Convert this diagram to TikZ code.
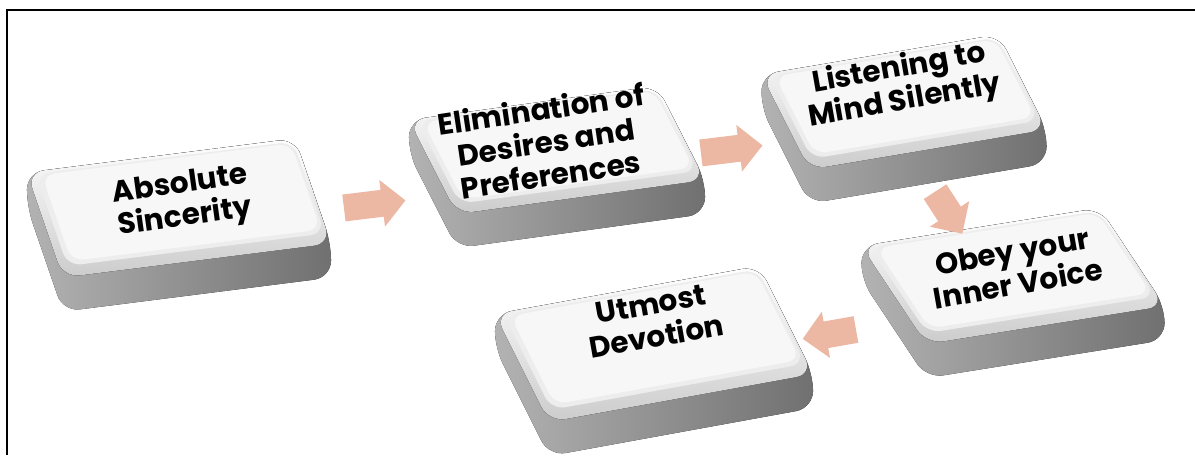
\documentclass[tikz,border=0pt]{standalone}
\usepackage{fontspec}
\usetikzlibrary{shapes.arrows}
\newfontfamily\keyfont{Poppins}
\definecolor{arrowpink}{RGB}{236,183,163}

\tikzset{
  keyside/.style={rounded corners=12pt, left color=black!30, right color=black!56},
  keyrim/.style={rounded corners=12pt, top color=white, bottom color=black!20},
  keymid/.style={rounded corners=10pt, fill=black!7},
  keytop/.style={rounded corners=9pt, fill=black!3},
  keytext/.style={font=\keyfont\bfseries\fontsize{21}{23.5}\selectfont, align=center, text=black},
  flowarrow/.style={single arrow, fill=arrowpink, inner sep=0.33cm, single arrow head extend=0.25cm, minimum height=1.55cm},
  frameline/.style={line width=0.05cm}
}

\newcommand{\keybox}[7]{%
  \begin{scope}[shift={(#2)}, x={(#3)}, y={(#4)}]
    \fill[keyside] (-1,-1) -- (1,-1) -- (1,1) -- ([yshift=-0.85cm]1,1) -- ([yshift=-0.85cm]-1,1) -- ([yshift=-0.85cm]-1,-1) -- cycle;
    \fill[keyrim] (-1,-1) -- (1,-1) -- (1,1) -- (-1,1) -- cycle;
    \fill[keymid] (-0.94,-0.95) -- (0.98,-0.95) -- (0.98,0.8) -- (-0.94,0.8) -- cycle;
    \fill[keytop] (-0.9,-0.92) -- (0.96,-0.92) -- (0.96,0.72) -- (-0.9,0.72) -- cycle;
    \node[keytext, rotate=#5] (#1) at (#6) {#7};
  \end{scope}}

\begin{document}
\begin{tikzpicture}[x=0.025cm, y=-0.025cm]
\useasboundingbox (0,0) rectangle (1195,455);

\coordinate (fbl) at (7,455);
\coordinate (ftr) at (1195,10);
\draw[frameline] (fbl) |- (ftr);

\keybox{absolute}{179,208}{3.35cm,0.425cm}{0.45cm,-1.3125cm}{8}{0.04,-0.1}{Absolute\\Sincerity}
\keybox{elimination}{557,150}{3.1cm,0.425cm}{0.6cm,-1.175cm}{8.5}{-0.05,-0.2}{Elimination of\\Desires and\\Preferences}
\keybox{listening}{904,102}{2.9625cm,0.5cm}{0.6cm,-1.1875cm}{10}{0.05,-0.33}{Listening to\\Mind Silently}
\keybox{obey}{1013,276}{2.975cm,0.475cm}{0.8125cm,-1.225cm}{10}{0.06,-0.15}{Obey your\\Inner Voice}
\keybox{utmost}{654,344}{3.3cm,0.6cm}{0.675cm,-1.35cm}{10}{0.08,-0.4}{Utmost\\Devotion}

\node[flowarrow, rotate=7] (a1) at (368,205) {};
\node[flowarrow, rotate=7] (a2) at (725,150) {};
\node[flowarrow, rotate=-57, minimum height=1.25cm] (a3) at (945,207) {};
\node[flowarrow, rotate=190, minimum height=1.35cm] (a4) at (836,333) {};
\end{tikzpicture}
\end{document}
